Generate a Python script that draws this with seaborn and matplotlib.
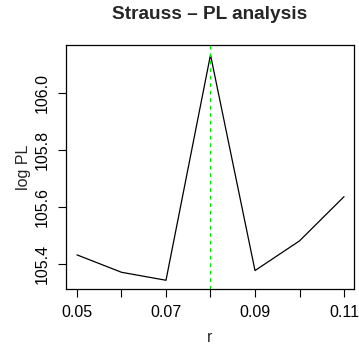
import matplotlib
matplotlib.use('Agg')
import matplotlib.pyplot as plt
import seaborn as sns
import pandas as pd

# profile likelihood values
r_values = [0.05, 0.06, 0.07, 0.08, 0.09, 0.10, 0.11]
log_pl = [105.432, 105.371, 105.343, 106.133, 105.377, 105.481, 105.636]
best_r = 0.08

sns.set_style('ticks')
plt.rcParams['font.family'] = ['Liberation Sans', 'DejaVu Sans']

df = pd.DataFrame({'r': r_values, 'logPL': log_pl})

fig = plt.figure(figsize=(3.59, 3.45), dpi=100)
ax = fig.add_axes([0.1838, 0.162, 0.802, 0.708])

sns.lineplot(data=df, x='r', y='logPL', color='black', linewidth=0.9, ax=ax)
ax.axvline(best_r, color='#00ee00', linestyle=(0, (3, 3)), linewidth=0.9)

ax.set_xlim(0.04753, 0.11222)
ax.set_ylim(105.312, 106.168)
ax.set_xticks(r_values)
ax.set_xticklabels(['0.05', '', '0.07', '', '0.09', '', '0.11'])
ax.set_yticks([105.4, 105.6, 105.8, 106.0])
ax.set_yticklabels(['105.4', '105.6', '105.8', '106.0'], rotation=90, va='center')
ax.tick_params(direction='out', length=5.5, width=0.8, labelsize=11.5, colors='black', pad=6)

for s in ax.spines.values():
    s.set_visible(True)
    s.set_linewidth(0.9)
    s.set_color('black')

ax.set_xlabel('r', fontsize=11.5, labelpad=7)
ax.set_ylabel('log PL', fontsize=11.5, labelpad=3)
fig.text(0.585, 0.958, 'Strauss \u2013 PL analysis', ha='center', va='center',
         fontsize=13.7, fontweight='bold')

fig.savefig('out.png', dpi=100)
